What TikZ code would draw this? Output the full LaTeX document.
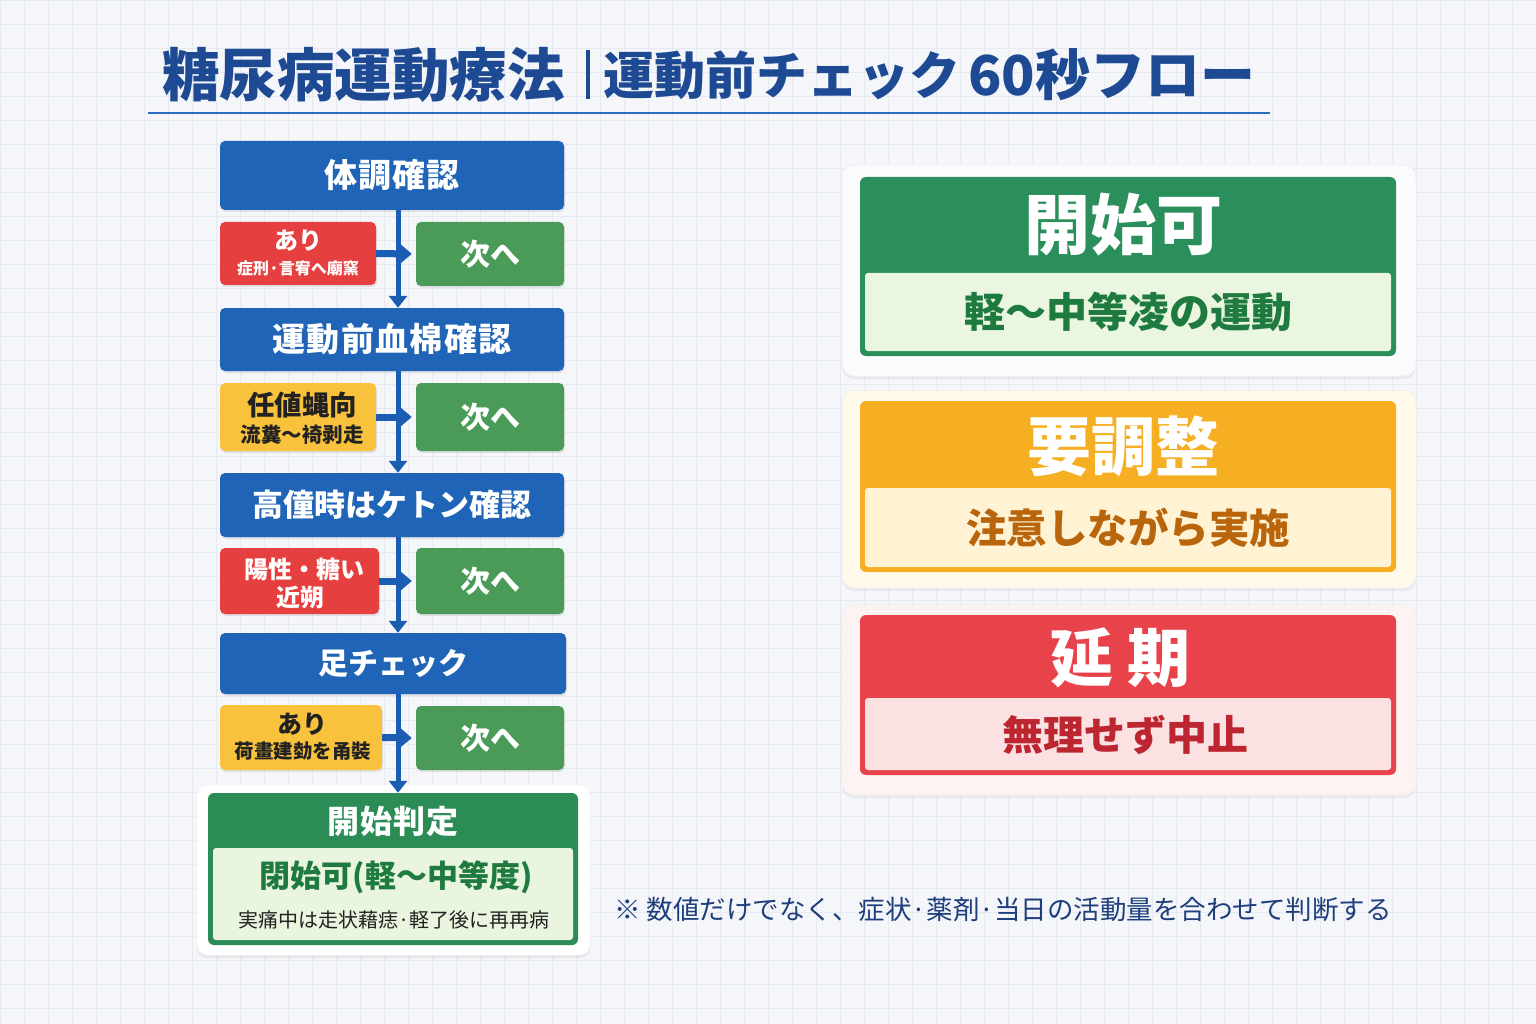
\documentclass[tikz,border=0pt]{standalone}
\usepackage{fontspec}
\setmainfont{Noto Sans CJK JP}
\usetikzlibrary{arrows.meta,shadows}
\definecolor{bg}{HTML}{F5F6FA}
\definecolor{gridc}{HTML}{E7E9F0}
\definecolor{titleblue}{HTML}{1D4A92}
\definecolor{lineblue}{HTML}{2C6BC0}
\definecolor{bluebg}{HTML}{1F64B6}
\definecolor{redbg}{HTML}{E5403F}
\definecolor{yellowbg}{HTML}{F9C23C}
\definecolor{greenbg}{HTML}{4B9B58}
\definecolor{arrowblue}{HTML}{1B5DB3}
\definecolor{fingreen}{HTML}{2B8C55}
\definecolor{finlight}{HTML}{E9F5DF}
\definecolor{fintext}{HTML}{1E7A3F}
\definecolor{darktext}{HTML}{222222}
\definecolor{pgreen}{HTML}{2A8F5A}
\definecolor{pgreenlight}{HTML}{EAF6E0}
\definecolor{porange}{HTML}{F6AE22}
\definecolor{porangelight}{HTML}{FFF3D3}
\definecolor{porangetext}{HTML}{B9650C}
\definecolor{pred}{HTML}{E8424A}
\definecolor{predlight}{HTML}{FCE1E2}
\definecolor{predtext}{HTML}{BD2530}
\definecolor{notetext}{HTML}{1E3F7C}
\begin{document}
\begin{tikzpicture}[x=1pt,y=-1pt,
  shd/.style={drop shadow={opacity=0.18,shadow xshift=1pt,shadow yshift=-2pt}},
  bluebox/.style={fill=bluebg, rounded corners=5pt, inner sep=0pt, text=white, minimum width=344pt, shd,
    font=\bfseries\fontsize{33}{33}\selectfont\addfontfeatures{LetterSpace=4}},
  sidebox/.style={rounded corners=5pt, inner sep=0pt, align=center, shd},
  redbox/.style={sidebox, fill=redbg, text=white},
  yellowbox/.style={sidebox, fill=yellowbg, text=darktext},
  nextbox/.style={sidebox, fill=greenbg, text=white, minimum width=148pt,
    font=\bfseries\fontsize{30}{30}\selectfont},
  vflow/.style={draw=arrowblue, line width=5pt, -{Triangle[width=18pt,length=12pt]}},
  hflow/.style={draw=arrowblue, line width=7pt, -{Triangle[width=18pt,length=11pt]}},
  panelouter/.style={rounded corners=12pt, draw=black!6, line width=1pt, inner sep=0pt,
    drop shadow={opacity=0.10,shadow xshift=0pt,shadow yshift=-3pt}},
  lbl/.style={inner sep=0pt}
]
\useasboundingbox (0,0) rectangle (1536,1024);
\fill[bg] (0,0) rectangle (1536,1024);
\foreach \gx in {0,24,...,1536} \draw[gridc, line width=0.6pt] (\gx,0) -- (\gx,1024);
\foreach \gy in {0,24,...,1024} \draw[gridc, line width=0.6pt] (0,\gy) -- (1536,\gy);

% title
\node[lbl, anchor=west, text=titleblue, font=\bfseries\fontsize{57.5}{58}\selectfont] (t1) at (162,75) {糖尿病運動療法};
\draw[titleblue, line width=3.5pt] (588,50) -- (588,99);
\node[lbl, anchor=west, text=titleblue, font=\bfseries\fontsize{51}{51}\selectfont] (t2) at (603,75) {運動前チェック};
\node[lbl, anchor=west, text=titleblue, font=\bfseries\fontsize{55}{55}\selectfont] (t3) at (968,75) {60秒フロー};
\draw[lineblue, line width=2pt] (148,113) -- (1270,113);

\coordinate (vx) at (398,0);

% left flow
\node[bluebox, minimum height=69pt] (b1) at (392,175.5) {体調確認};
\node[redbox, minimum width=156pt, minimum height=63pt] (r1) at (298,253.5) {};
\node[lbl, text=white, font=\bfseries\fontsize{24}{24}\selectfont] (r1a) at (298,241) {あり};
\node[lbl, text=white, font=\bfseries\fontsize{16}{16}\selectfont] (r1b) at (298,268) {症刑·言宥へ廟窯};
\node[nextbox, minimum height=64pt] (g1) at (490,254) {次へ};

\node[bluebox, minimum height=63pt] (b2) at (392,339.5) {運動前血棉確認};
\node[yellowbox, minimum width=156pt, minimum height=68pt] (y2) at (298,417) {};
\node[lbl, text=darktext, font=\bfseries\fontsize{27.5}{28}\selectfont] (y2a) at (302,405) {任値蝿向};
\node[lbl, text=darktext, font=\bfseries\fontsize{20.5}{21}\selectfont] (y2b) at (302,435) {流糞～裿剥走};
\node[nextbox, minimum height=68pt] (g2) at (490,417) {次へ};

\node[bluebox, minimum height=64pt, font=\bfseries\fontsize{31}{31}\selectfont] (b3) at (392,505) {高僮時はケトン確認};
\node[redbox, minimum width=159pt, minimum height=66pt] (r3) at (299.5,581) {};
\node[lbl, text=white, font=\bfseries\fontsize{24}{24}\selectfont] (r3a) at (304,569) {陽性・糖い};
\node[lbl, text=white, font=\bfseries\fontsize{24}{24}\selectfont] (r3b) at (300,597) {近朔};
\node[nextbox, minimum height=66pt] (g3) at (490,581) {次へ};

\node[bluebox, minimum width=346pt, minimum height=61pt, font=\bfseries\fontsize{30}{30}\selectfont] (b4) at (393,663.5) {足チェック};
\node[yellowbox, minimum width=162pt, minimum height=65pt] (y4) at (301,737.5) {};
\node[lbl, text=darktext, font=\bfseries\fontsize{25}{25}\selectfont] (y4a) at (302,724) {あり};
\node[lbl, text=darktext, font=\bfseries\fontsize{19.5}{20}\selectfont] (y4b) at (303,751) {荷畫建勎を甬裝};
\node[nextbox, minimum height=64pt] (g4) at (490,738) {次へ};

% final box
\node[rounded corners=10pt, fill=white, draw=black!5, minimum width=393pt, minimum height=170pt, inner sep=0pt,
  drop shadow={opacity=0.12,shadow xshift=0pt,shadow yshift=-3pt}] (fincard) at (393.5,870) {};
\node[rounded corners=6pt, fill=fingreen, minimum width=370pt, minimum height=152pt, inner sep=0pt] (fin) at (393,869) {};
\fill[finlight, rounded corners=3pt] (213,848) rectangle (573,940);
\node[lbl, text=white, font=\bfseries\fontsize{32}{32}\selectfont\addfontfeatures{LetterSpace=3}] (fina) at (393,821) {開始判定};
\node[lbl, text=fintext, font=\bfseries\fontsize{31}{31}\selectfont] (finb) at (396,877) {閉始可(軽～中等度)};
\node[lbl, text=darktext, font=\fontsize{20}{20}\selectfont] (finc) at (394,920) {実痛中は走状藉痣·軽了後に再再病};

% connectors
\draw[vflow] (b1.south -| vx) -- (b2.north -| vx);
\draw[vflow] (b2.south -| vx) -- (b3.north -| vx);
\draw[vflow] (b3.south -| vx) -- (b4.north -| vx);
\draw[vflow] (b4.south -| vx) -- (fin.north -| vx);
\draw[hflow] (r1.east) -- ([xshift=-4pt]g1.west);
\draw[hflow] (y2.east) -- ([xshift=-4pt]g2.west);
\draw[hflow] (r3.east) -- ([xshift=-4pt]g3.west);
\draw[hflow] (y4.east) -- ([xshift=-4pt]g4.west);

% right panels
\node[panelouter, fill=white!60!bg, minimum width=574pt, minimum height=211pt] (p1o) at (1129,270.5) {};
\node[rounded corners=6pt, fill=pgreen, minimum width=536pt, minimum height=179pt, inner sep=0pt] (p1) at (1128,266.5) {};
\fill[pgreenlight, rounded corners=3pt] (865,273) rectangle (1391,351);
\node[lbl, text=white, font=\bfseries\fontsize{66}{66}\selectfont] (p1a) at (1123,225) {開始可};
\node[lbl, text=fintext, font=\bfseries\fontsize{41}{41}\selectfont] (p1b) at (1128,312) {軽～中等凌の運動};

\node[panelouter, fill=porangelight!50!white, minimum width=574pt, minimum height=198pt] (p2o) at (1129,489) {};
\node[rounded corners=6pt, fill=porange, minimum width=536pt, minimum height=171pt, inner sep=0pt] (p2) at (1128,486.5) {};
\fill[porangelight, rounded corners=3pt] (865,488) rectangle (1391,567);
\node[lbl, text=white, font=\bfseries\fontsize{64}{64}\selectfont] (p2a) at (1123,446) {要調整};
\node[lbl, text=porangetext, font=\bfseries\fontsize{40.5}{41}\selectfont] (p2b) at (1128,528) {注意しながら実施};

\node[panelouter, fill=predlight!40!white, minimum width=574pt, minimum height=190pt] (p3o) at (1129,700) {};
\node[rounded corners=6pt, fill=pred, minimum width=536pt, minimum height=160pt, inner sep=0pt] (p3) at (1128,695) {};
\fill[predlight, rounded corners=3pt] (865,698) rectangle (1391,770);
\node[lbl, text=white, font=\bfseries\fontsize{63}{63}\selectfont] (p3a) at (1120,658) {延\hspace{14pt}期};
\node[lbl, text=predtext, font=\bfseries\fontsize{41}{41}\selectfont] (p3b) at (1125,735) {無理せず中止};

% note
\node[lbl, anchor=west, text=notetext, font=\fontsize{26.5}{27}\selectfont] (note) at (614,910) {※ 数値だけでなく、症状·薬剤·当日の活動量を合わせて判断する};
\end{tikzpicture}
\end{document}
